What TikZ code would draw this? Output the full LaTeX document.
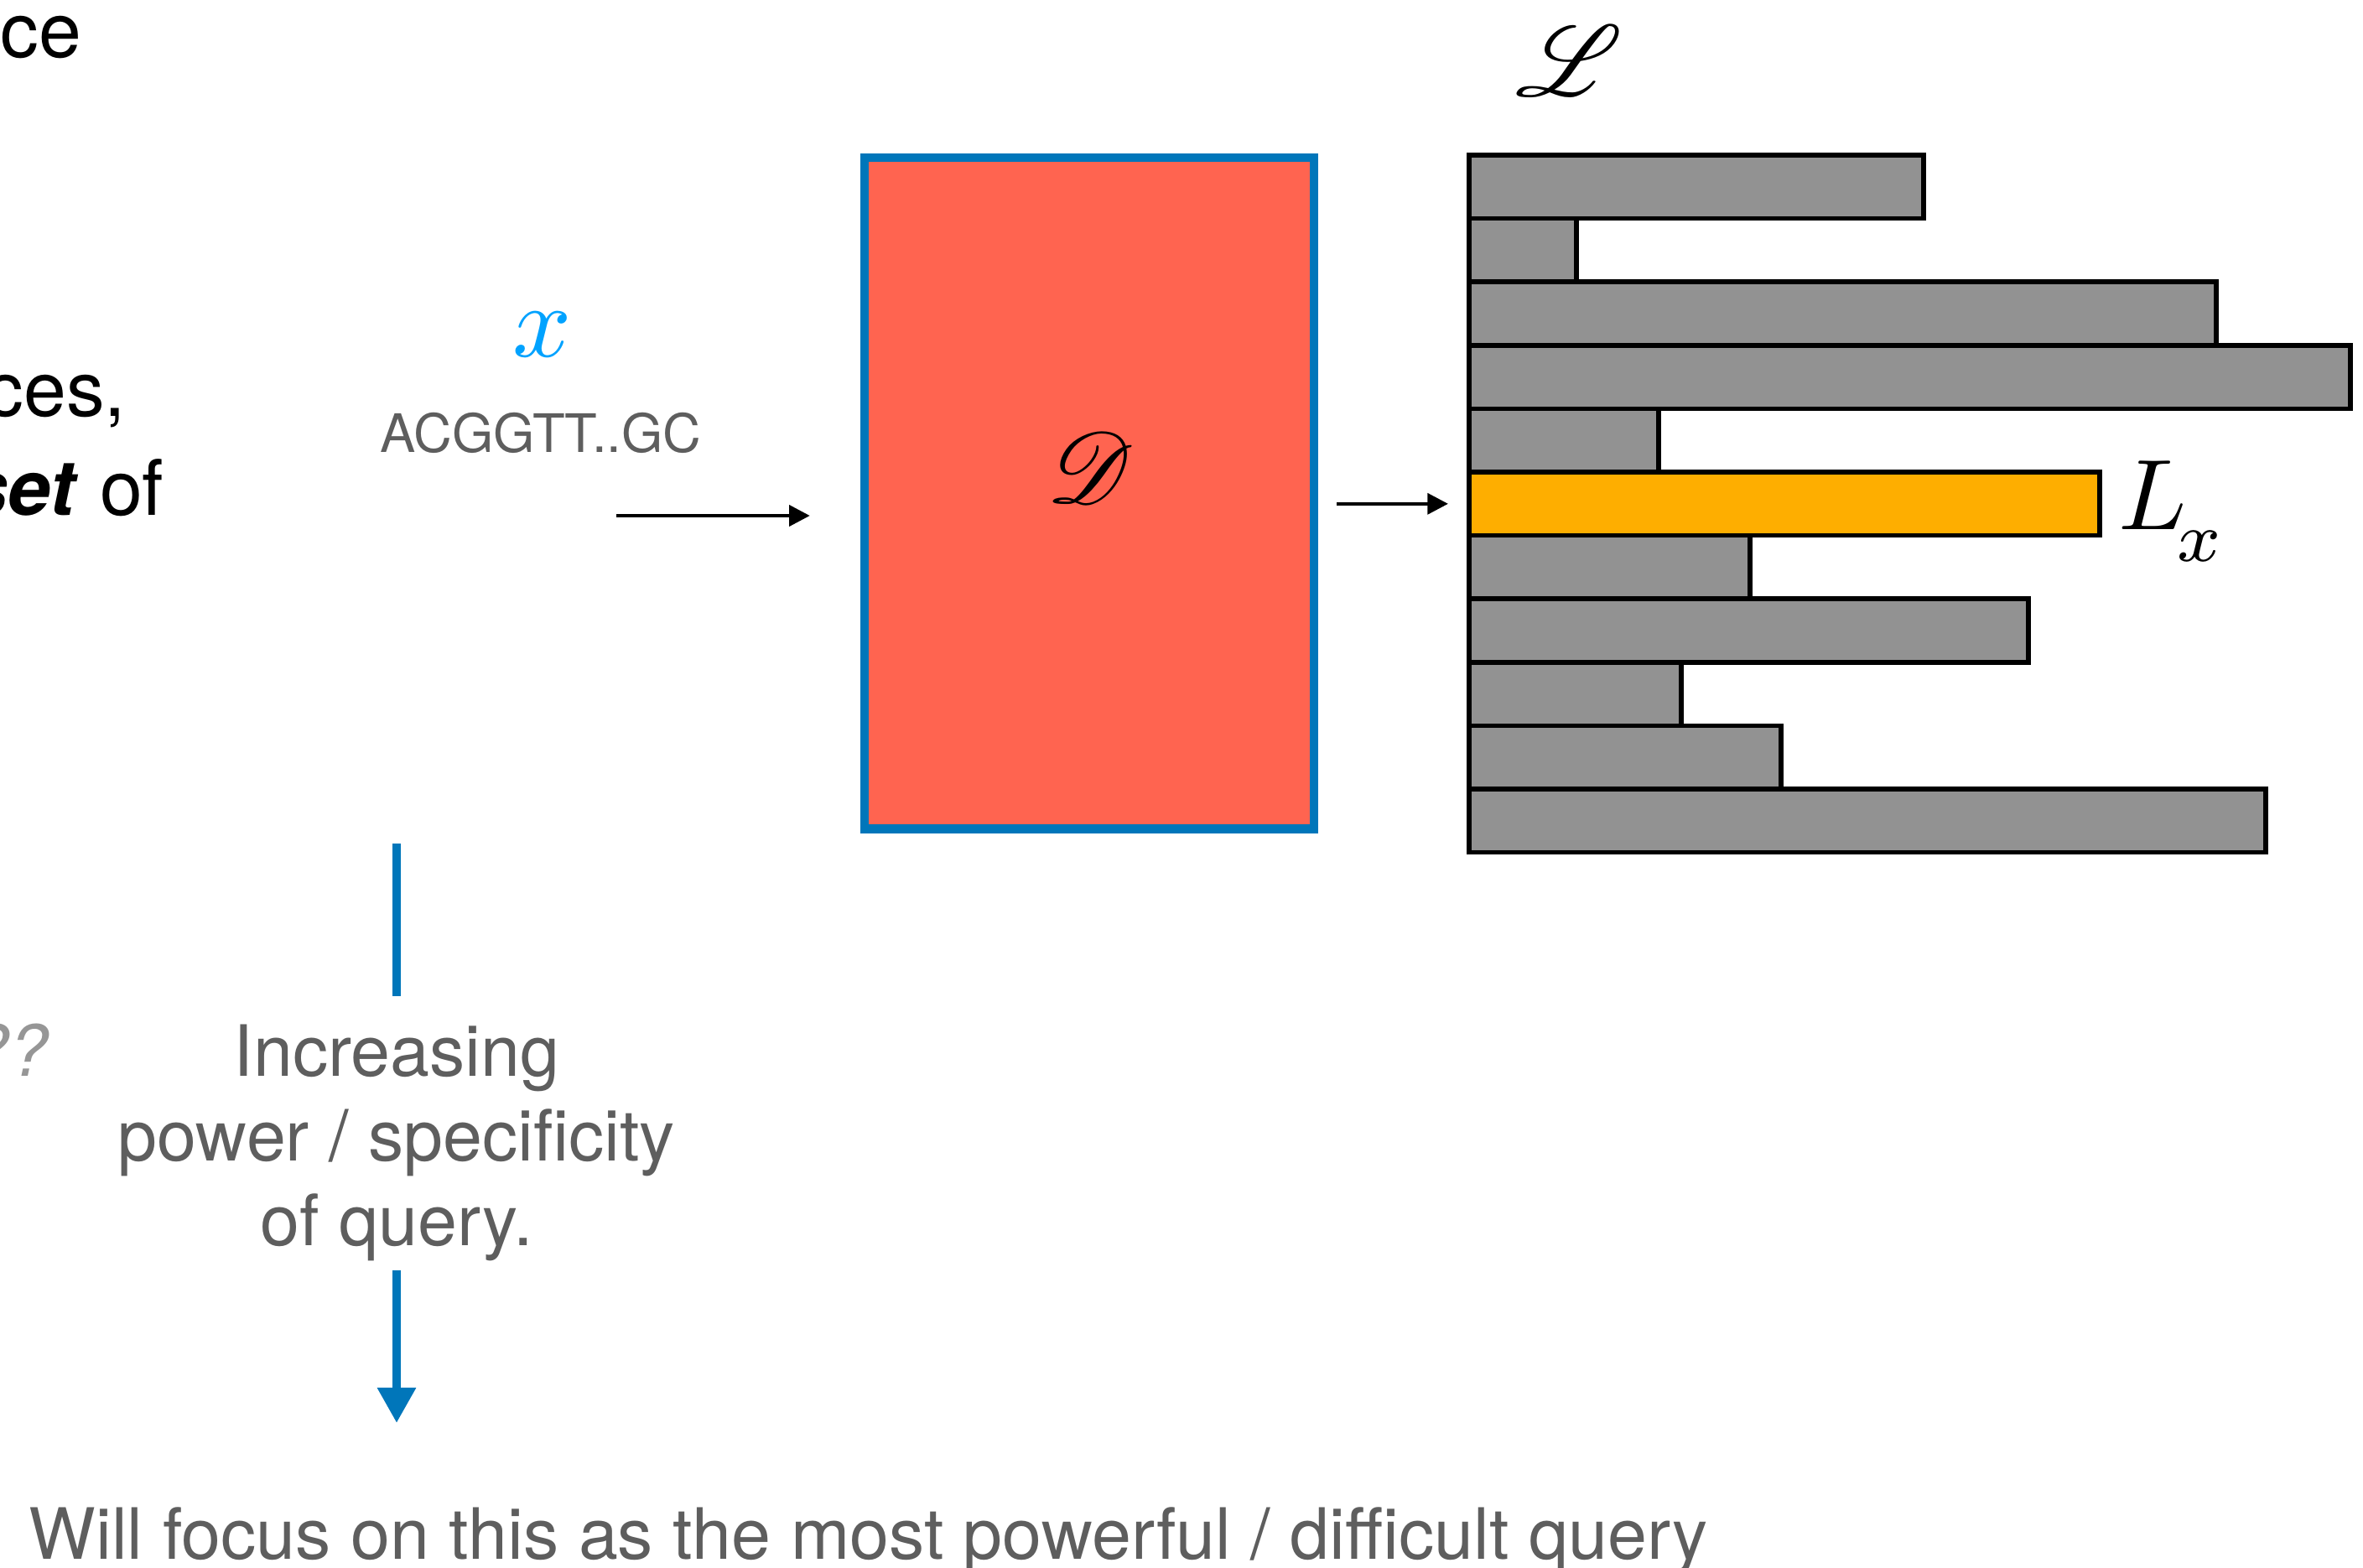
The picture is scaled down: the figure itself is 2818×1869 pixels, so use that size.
\documentclass[tikz,border=0pt]{standalone}
\usepackage{amsmath}
\usepackage{mathrsfs}
\usepackage{fontspec}
\setmainfont{TeX Gyre Heros}
\usetikzlibrary{arrows.meta, positioning}

\definecolor{dred}{RGB}{255,100,80}
\definecolor{dblue}{RGB}{0,118,186}
\definecolor{bargray}{RGB}{146,146,146}
\definecolor{hlorange}{RGB}{254,174,0}
\definecolor{querycyan}{RGB}{0,162,255}
\definecolor{textgray}{RGB}{94,94,94}
\definecolor{qgray}{RGB}{150,150,150}

\newcommand{\slidefont}{\fontsize{26}{31}\selectfont}
\newcommand{\midfont}{\fontsize{24}{28.7}\selectfont}

\begin{document}
\begin{tikzpicture}[x=0.01cm, y=-0.01cm,
    lenbar/.style={draw=black, line width=1.6pt, outer sep=0pt, inner sep=0pt,
        minimum height=0.756cm, anchor=north west},
    edgetext/.style={anchor=base east, inner sep=0pt, font=\slidefont},
    qarrow/.style={line width=1.3pt, -{Triangle[length=7pt, width=7pt]}},
    bluearrow/.style={draw=dblue, line width=2.8pt}]
    \useasboundingbox (0,0) rectangle (2818,1869);

    % text cut off at the left edge
    \node[edgetext] (t1) at (98,68) {ce};
    \node[edgetext] (t2) at (151,496) {ces,};
    \node[edgetext] (t3) at (196,614) {\textbf{\textit{set}} of};
    \node[edgetext, font=\midfont\itshape, text=qgray] (qq) at (58,1283) {??};

    % query sequence
    \node[anchor=base, text=querycyan, scale=3.5] (xq) at (647,425) {$x$};
    \node[anchor=base, text=textgray, font=\fontsize{18}{21}\selectfont] (seq) at (645,539) {ACGGTT..GC};

    % database
    \node[draw=dblue, fill=dred, line width=3pt, outer sep=0pt,
        minimum width=5.36cm, minimum height=8cm] (dbox) at (1299,588) {};
    \node[scale=3.4] (dlabel) at (1300,558) {$\mathscr{D}$};

    % result list
    \node[scale=3.4] (lset) at (1871,73) {$\mathscr{L}$};
    \foreach \w/\c [count=\i] in {542/bargray, 128/bargray, 891/bargray, 1051/bargray,
        226/bargray, 752/hlorange, 335/bargray, 667/bargray, 253/bargray, 372/bargray, 950/bargray} {
        \node[lenbar, fill=\c, minimum width=\w*0.01cm] (bar\i) at (1752, {185+75.6*(\i-1)}) {};
    }
    \node[anchor=base west, inner sep=0pt, scale=3.4] (lx) at (2524,631)
        {$L_{\kern-0.1em\raisebox{-1.7pt}{$\scriptstyle x$}}$};

    % arrows
    \coordinate (qin) at (735,615);
    \draw[qarrow, shorten >=0.65cm] (qin) -- (qin -| dbox.west);
    \draw[qarrow, shorten <=0.27cm, shorten >=0.25cm] (dbox.east |- bar6.west) -- (bar6.west);

    % power of query
    \node[font=\midfont, text=textgray, align=center, inner sep=0pt] (incr) at (473,1363)
        {Increasing\\power / specificity\\of query.};
    \coordinate (incrtop) at (473,1006);
    \coordinate (incrend) at (473,1697);
    \draw[bluearrow, shorten >=0.33cm] (incrtop) -- (incr.north);
    \draw[bluearrow, -{Triangle[length=12pt, width=12.5pt]}, shorten <=0.1cm] (incr.south) -- (incrend);

    \node[anchor=base west, inner sep=0pt, font=\midfont, text=textgray] (focus) at (34,1859)
        {Will focus on this as the most powerful / difficult query};
\end{tikzpicture}
\end{document}
